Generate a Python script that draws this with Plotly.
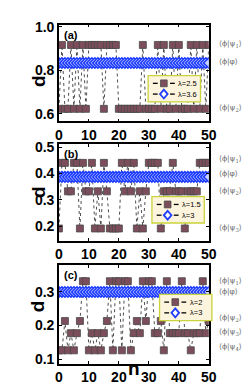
import plotly.graph_objects as go

n = list(range(51))

# Panel (a): level index per n (1=psi1, 2=psi2)
levels_a = [0.917, 0.623]
state_a = [2, 1, 2, 2, 1, 2, 1, 2, 1, 2, 1, 1, 1, 1, 1, 2, 1, 1, 1, 1,
           2, 2, 2, 2, 2, 2, 2, 2, 1, 2, 2, 2, 2, 1, 2, 1, 2, 2, 1, 2,
           1, 2, 2, 2, 1, 2, 1, 2, 1, 2, 1]
phi_a = 0.834

# Panel (b): 1=psi1, 2=psi2, 3=psi3
levels_b = [0.440, 0.332, 0.191]
state_b = [3, 1, 1, 2, 2, 1, 1, 3, 1, 2, 2, 1, 3, 2, 3, 1, 2, 3, 3, 3,
           3, 1, 2, 1, 2, 1, 3, 2, 3, 2, 1, 1, 1, 1, 3, 2, 2, 2, 1, 2,
           2, 2, 3, 2, 2, 2, 2, 1, 1, 1, 1]
phi_b = 0.387

# Panel (c): 1=psi1, 2=psi2, 3=psi3, 4=psi4
levels_c = [0.331, 0.213, 0.177, 0.126]
state_c = [4, 4, 2, 4, 3, 4, 3, 2, 1, 1, 4, 3, 4, 3, 4, 3, 2, 1, 4, 1,
           1, 4, 1, 1, 4, 3, 2, 3, 1, 2, 1, 1, 3, 3, 2, 4, 1, 3, 3, 3,
           3, 1, 3, 3, 4, 3, 3, 3, 1, 3, 2]
phi_c = 0.299

lam_sq = ["λ=2.5", "λ=1.5", "λ=2"]
lam_di = ["λ=3.6", "λ=3", "λ=3"]

SQ = "#7c4d5a"
BLUE = "#1f3dff"
W, H = 250, 386

def px_x(x):
    return x / W

def px_y(y):
    return 1 - y / H

panels = [
    dict(top=11, bottom=110, yr=[0.565, 1.01], ticks=[0.6, 0.8, 1.0], tt=["0.6", "0.8", "1.0"],
         levels=levels_a, state=state_a, phi=phi_a, tag="(a)",
         labels=[("⟨ϕ|ψ<sub>1</sub>⟩", 31), ("⟨ϕ|φ⟩", 49), ("⟨ϕ|ψ<sub>2</sub>⟩", 96)],
         leg=(143, 63)),
    dict(top=133, bottom=232, yr=[0.145, 0.512], ticks=[0.2, 0.3, 0.4, 0.5], tt=["0.2", "0.3", "0.4", "0.5"],
         levels=levels_b, state=state_b, phi=phi_b, tag="(b)",
         labels=[("⟨ϕ|ψ<sub>1</sub>⟩", 148), ("⟨ϕ|φ⟩", 163), ("⟨ϕ|ψ<sub>2</sub>⟩", 181), ("⟨ϕ|ψ<sub>3</sub>⟩", 219)],
         leg=(147, 187)),
    dict(top=257, bottom=358, yr=[0.0865, 0.379], ticks=[0.1, 0.2, 0.3], tt=["0.1", "0.2", "0.3"],
         levels=levels_c, state=state_c, phi=phi_c, tag="(c)",
         labels=[("⟨ϕ|ψ<sub>1</sub>⟩", 273), ("⟨ϕ|φ⟩", 284), ("⟨ϕ|ψ<sub>2</sub>⟩", 311), ("⟨ϕ|ψ<sub>3</sub>⟩", 326), ("⟨ϕ|ψ<sub>4</sub>⟩", 341)],
         leg=(155, 287)),
]

fig = go.Figure()
annotations = []
shapes = []
layout = {}
x0, x1 = 49.3, 206.7


def pshape(**kw):
    kw.setdefault("xref", "paper")
    kw.setdefault("yref", "paper")
    shapes.append(kw)


def add_legend(L, T, names):
    # legend box (decoration, drawn in paper coordinates)
    pshape(type="rect", x0=px_x(L), x1=px_x(L + 55), y0=px_y(T), y1=px_y(T + 27),
           fillcolor="#fdf4de", line=dict(color="#c9d33a", width=1.3), layer="above")
    for r, name in enumerate(names):
        yy = T + 8 + 11 * r
        for a, b in [(L + 5, L + 10), (L + 23, L + 28)]:
            pshape(type="line", x0=px_x(a), x1=px_x(b), y0=px_y(yy), y1=px_y(yy),
                   line=dict(color="black", width=1.3), layer="above")
        cx = L + 16.5
        if r == 0:
            pshape(type="rect", x0=px_x(cx - 3.5), x1=px_x(cx + 3.5), y0=px_y(yy - 3.5), y1=px_y(yy + 3.5),
                   fillcolor=SQ, line=dict(color="#4a4a4a", width=0.8), layer="above")
        else:
            path = "M {:.4f},{:.4f} L {:.4f},{:.4f} L {:.4f},{:.4f} L {:.4f},{:.4f} Z".format(
                px_x(cx - 4), px_y(yy), px_x(cx), px_y(yy - 4.5), px_x(cx + 4), px_y(yy), px_x(cx), px_y(yy + 4.5))
            pshape(type="path", path=path, fillcolor="#ffffff", line=dict(color=BLUE, width=1.8), layer="above")
        annotations.append(dict(text=name, x=px_x(L + 29.5), y=px_y(yy), xref="paper", yref="paper",
                                xanchor="left", yanchor="middle", showarrow=False,
                                font=dict(family="Liberation Sans", size=7.5, color="black")))


for i, p in enumerate(panels):
    k = i + 1
    xa = "x" if k == 1 else f"x{k}"
    ya = "y" if k == 1 else f"y{k}"
    d = [p["levels"][s - 1] for s in p["state"]]
    fig.add_trace(go.Scatter(
        x=n, y=d, mode="lines+markers", name=lam_sq[i], xaxis=xa, yaxis=ya,
        line=dict(color="#222222", width=0.8, dash="3px,3px"),
        marker=dict(symbol="square", size=7, color=SQ, line=dict(color="#4a4a4a", width=0.8)),
    ))
    fig.add_trace(go.Scatter(
        x=n, y=[p["phi"]] * len(n), mode="lines+markers", name=lam_di[i], xaxis=xa, yaxis=ya,
        line=dict(color="#222222", width=0.8, dash="3px,3px"),
        marker=dict(symbol="diamond", size=8, color="#c9d3ff", line=dict(color=BLUE, width=1.6)),
    ))
    axn = "" if k == 1 else str(k)
    common = dict(showline=True, linecolor="black", linewidth=1.5, mirror="ticks",
                  ticks="inside", ticklen=3, tickcolor="black", showgrid=False, zeroline=False,
                  tickfont=dict(family="Liberation Sans", size=14, color="black", weight="bold"))
    layout["xaxis" + axn] = dict(common, domain=[px_x(x0), px_x(x1)], range=[0, 50],
                                 tickvals=[0, 10, 20, 30, 40, 50], anchor=ya)
    layout["yaxis" + axn] = dict(common, domain=[px_y(p["bottom"]), px_y(p["top"])], range=p["yr"],
                                 tickvals=p["ticks"], ticktext=p["tt"], anchor=xa)
    add_legend(p["leg"][0], p["leg"][1], [lam_sq[i], lam_di[i]])
    annotations.append(dict(text="<b>" + p["tag"] + "</b>", x=px_x(52), y=px_y(p["top"] + 10),
                            xref="paper", yref="paper", xanchor="left", yanchor="middle", showarrow=False,
                            font=dict(family="Liberation Sans", size=11, color="black")))
    for txt, yy in p["labels"]:
        annotations.append(dict(text=txt, x=px_x(215), y=px_y(yy), xref="paper", yref="paper",
                                xanchor="left", yanchor="middle", showarrow=False,
                                font=dict(family="DejaVu Serif", size=7.5, color="#666666")))
    annotations.append(dict(text="<b>d</b>", x=px_x(14), y=px_y((p["top"] + p["bottom"]) / 2),
                            xref="paper", yref="paper", textangle=-90, showarrow=False,
                            font=dict(family="Liberation Sans", size=19, color="black")))

annotations.append(dict(text="<b>n</b>", x=px_x(128), y=px_y(376), xref="paper", yref="paper",
                        showarrow=False, font=dict(family="Liberation Sans", size=19, color="black")))

fig.update_layout(width=W, height=H, margin=dict(l=0, r=0, t=0, b=0),
                  paper_bgcolor="white", plot_bgcolor="white", showlegend=False,
                  annotations=annotations, shapes=shapes, **layout)
fig.write_html("out.html")
